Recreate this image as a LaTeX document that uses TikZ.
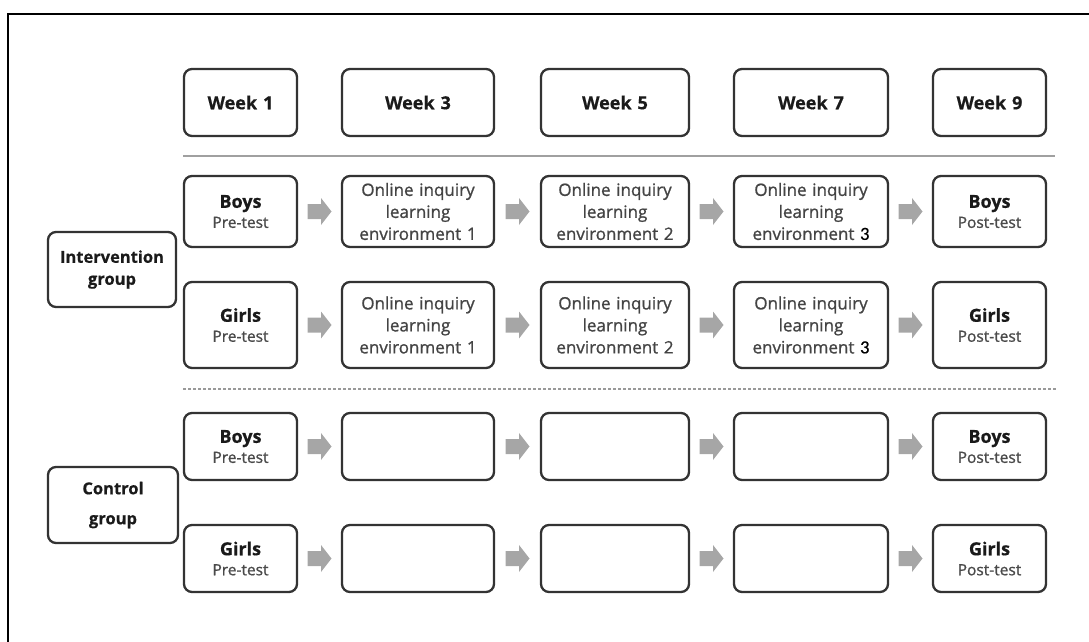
\documentclass[tikz,border=0pt]{standalone}
\usepackage{fontspec}
\setmainfont{Open Sans}[UprightFeatures={FakeBold=1.0}, BoldFeatures={FakeBold=0.5}]
\newfontfamily\carlfont{Carlito}[FakeBold=0.5]
\usetikzlibrary{calc}
\definecolor{boxline}{HTML}{333333}
\definecolor{txtbold}{HTML}{1A1A1A}
\definecolor{txtgray}{HTML}{4A4A4A}
\definecolor{envgray}{HTML}{444444}
\definecolor{arrowgray}{HTML}{A6A6A6}
\definecolor{rulegray}{HTML}{A0A0A0}
\definecolor{dashgray}{HTML}{999999}
\newcommand\bxhead[1]{{\fontsize{18}{20}\selectfont\bfseries\color{txtbold}#1}}
\newcommand\bxsub[1]{{\fontsize{15.5}{20}\selectfont\color{txtgray}#1}}
\newcommand\envtxt[1]{Online inquiry\\learning\\environment #1}
\begin{document}
\begin{tikzpicture}[x=1pt,y=-1pt,
  box/.style={draw=boxline, line width=2.3pt, rounded corners=8pt, fill=white, inner sep=0pt, align=center},
  c1/.style={box, minimum width=113, text width=110},
  c2/.style={box, minimum width=152, text width=148},
  c3/.style={box, minimum width=148, text width=145},
  c4/.style={box, minimum width=154, text width=150},
  c5/.style={box, minimum width=113, text width=110},
  weekrow/.style={minimum height=67, font=\fontsize{18}{20}\selectfont\bfseries, text=txtbold},
  rowa/.style={minimum height=71, font=\fontsize{15.5}{20}\selectfont},
  rowb/.style={minimum height=86, font=\fontsize{15.5}{20}\selectfont},
  rowc/.style={minimum height=67, font=\fontsize{15.5}{20}\selectfont},
  envbox/.style={font=\fontsize{17}{22}\selectfont, text=envgray},
  grpbox/.style={box, font=\fontsize{16.5}{22}\selectfont\bfseries, text=txtbold},
  blockarr/.pic={\fill[arrowgray] (-12,-7.5) -- (1.5,-7.5) -- (1.5,-13.5) -- (12,0) -- (1.5,13.5) -- (1.5,7.5) -- (-12,7.5) -- cycle;}
]
\useasboundingbox (0,0) rectangle (1089,642);
% outer frame
\draw[black, line width=1.5] (8,642) -- (8,14) -- (1089,14);

% week header row
\node[c1, weekrow] (w1) at (240.5,102.5) {Week 1};
\node[c2, weekrow] (w3) at (418,102.5) {Week 3};
\node[c3, weekrow] (w5) at (615,102.5) {Week 5};
\node[c4, weekrow] (w7) at (811,102.5) {Week 7};
\node[c5, weekrow] (w9) at (989.5,102.5) {Week 9};

% rules
\draw[rulegray, line width=2] (183,156) -- (1055,156);
\draw[dashgray, line width=2, dash pattern=on 3 off 2] (183,389) -- (1057,389);

% intervention boys
\node[c1, rowa] (ib1) at (240.5,211.5) {\bxhead{Boys}\\\bxsub{Pre-test}};
\node[c2, rowa, envbox] (ib2) at (418,211.5) {\envtxt{1}};
\node[c3, rowa, envbox] (ib3) at (615,211.5) {\envtxt{2}};
\node[c4, rowa, envbox] (ib4) at (811,211.5) {Online inquiry\\learning\\environment {\carlfont\color{black}\fontsize{18.5}{22}\selectfont 3}};
\node[c5, rowa] (ib5) at (989.5,211.5) {\bxhead{Boys}\\\bxsub{Post-test}};

% intervention girls
\node[c1, rowb] (ig1) at (240.5,325) {\bxhead{Girls}\\\bxsub{Pre-test}};
\node[c2, rowb, envbox] (ig2) at (418,325) {\envtxt{1}};
\node[c3, rowb, envbox] (ig3) at (615,325) {\envtxt{2}};
\node[c4, rowb, envbox] (ig4) at (811,325) {Online inquiry\\learning\\environment {\carlfont\color{black}\fontsize{18.5}{22}\selectfont 3}};
\node[c5, rowb] (ig5) at (989.5,325) {\bxhead{Girls}\\\bxsub{Post-test}};

% control boys
\node[c1, rowc] (cb1) at (240.5,446.5) {\bxhead{Boys}\\\bxsub{Pre-test}};
\node[c2, rowc] (cb2) at (418,446.5) {};
\node[c3, rowc] (cb3) at (615,446.5) {};
\node[c4, rowc] (cb4) at (811,446.5) {};
\node[c5, rowc] (cb5) at (989.5,446.5) {\bxhead{Boys}\\\bxsub{Post-test}};

% control girls
\node[c1, rowc] (cg1) at (240.5,558.5) {\bxhead{Girls}\\\bxsub{Pre-test}};
\node[c2, rowc] (cg2) at (418,558.5) {};
\node[c3, rowc] (cg3) at (615,558.5) {};
\node[c4, rowc] (cg4) at (811,558.5) {};
\node[c5, rowc] (cg5) at (989.5,558.5) {\bxhead{Girls}\\\bxsub{Post-test}};

% group boxes
\node[grpbox, minimum width=128, minimum height=75] (ig) at (112,269.5) {Intervention\\group};
\node[grpbox, minimum width=130, minimum height=76, font=\fontsize{16.5}{30}\selectfont\bfseries] (cg) at (113,505) {Control\\group};

% block arrows between stages
\foreach \r in {ib,ig,cb,cg}{
  \foreach \a/\b in {1/2,2/3,3/4,4/5}{
    \path ($(\r\a.east)!0.5!(\r\b.west)$) pic {blockarr};
  }
}
\end{tikzpicture}
\end{document}
